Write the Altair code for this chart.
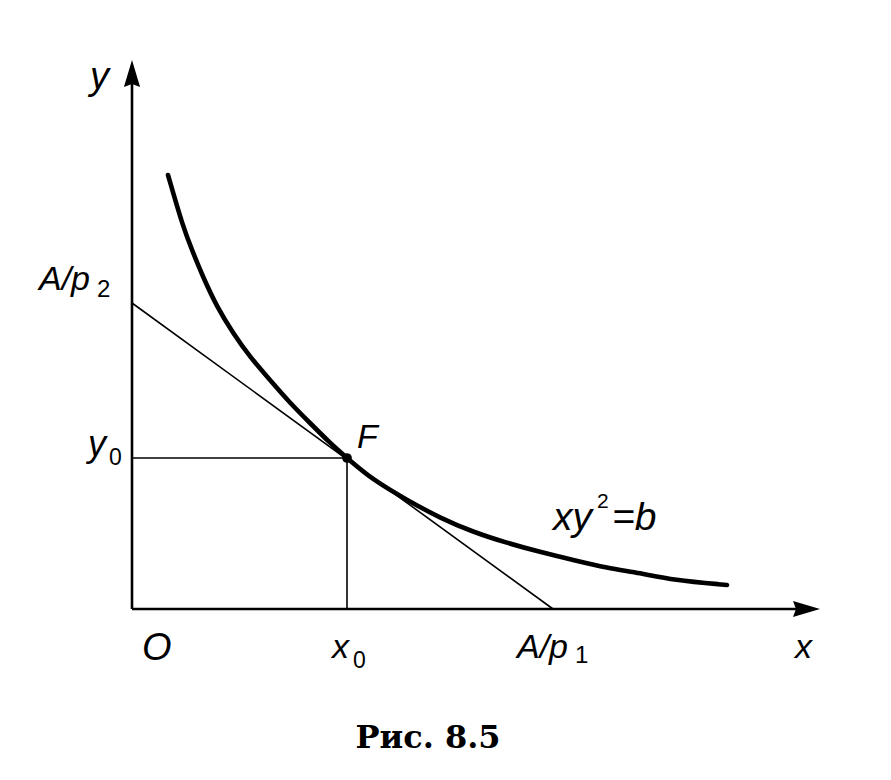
import altair as alt
import pandas as pd

# ---- data (coordinates in figure units: origin O at (0,0), 1 unit ~ 1 px) ----
curve_x = [36, 51, 60, 71, 85, 101, 118, 138, 158, 178, 198, 215, 241, 275, 308, 341, 375, 408, 441, 475, 508, 541, 595]
curve_y = [434, 382, 359, 332, 302, 276, 252, 229, 206, 186, 166, 151, 129, 109, 91, 77, 66, 57, 49, 41, 36, 29, 24]

x0_val, y0_val = 215, 151          # point F
A_p2 = 306                          # intercept on y axis
A_p1 = 421                          # intercept on x axis
x_axis_end, y_axis_end = 688, 549   # arrow tips

# italic letters
lbl_text = ["y", "A/p", "y", "O", "x", "A/p", "x", "F", "xy", "=b"]
lbl_x = [-42, -93, -44, 10, 200, 385, 663, 225, 421, 480]
lbl_y = [520, 319, 153, -51, -49, -49, -49, 161, 79, 79]
lbl_size = [38, 34, 36, 38, 34, 34, 34, 34, 39, 39]

# upright sub/superscripts
sub_text = ["2", "0", "0", "1", "2"]
sub_x = [-35, -23, 221, 443, 465]
sub_y = [312, 144, -59, -54, 101]
sub_size = [24, 23, 23, 24, 21]

caption = "Рис. 8.5"

# ---- scales: plot area mapped so 1 unit = 1 px ----
W, H = 875, 756
xdom = [8 - 132, 8 + W - 132]
ydom = [609 - 8 - H, 609 - 8]
xs = alt.Scale(domain=xdom, nice=False, zero=False)
ys = alt.Scale(domain=ydom, nice=False, zero=False)

def X(f="x"):
    return alt.X(f"{f}:Q", scale=xs, axis=None)

def Y(f="y"):
    return alt.Y(f"{f}:Q", scale=ys, axis=None)

head = 27  # arrow head length
axes_df = pd.DataFrame({
    "x": [0, 0], "y": [0, 0],
    "x2": [0, x_axis_end - head / 2], "y2": [y_axis_end - head / 2, 0],
})
axes = alt.Chart(axes_df).mark_rule(color="black", strokeWidth=2.6).encode(
    x=X(), y=Y(), x2="x2:Q", y2="y2:Q")

arrow_path = "M0,-1 L0.6,1 L0,0.78 L-0.6,1 Z"
arrows_df = pd.DataFrame({
    "x": [0, x_axis_end - head / 2],
    "y": [y_axis_end - head / 2, 0],
    "ang": [0, 90],
})
arrows = alt.Chart(arrows_df).mark_point(
    shape=arrow_path, filled=True, color="black", opacity=1, size=head * head, strokeWidth=0
).encode(x=X(), y=Y(), angle=alt.Angle("ang:Q", scale=None))

thin_df = pd.DataFrame({
    "x": [0, 0, x0_val], "y": [A_p2, y0_val, y0_val],
    "x2": [A_p1, x0_val, x0_val], "y2": [0, y0_val, 0],
})
thin = alt.Chart(thin_df).mark_rule(color="black", strokeWidth=1.6).encode(
    x=X(), y=Y(), x2="x2:Q", y2="y2:Q")

curve_df = pd.DataFrame({"x": curve_x, "y": curve_y, "o": list(range(len(curve_x)))})
curve = alt.Chart(curve_df).mark_line(color="black", strokeWidth=4.6, interpolate="basis",
                                      strokeCap="round").encode(
    x=X(), y=Y(), order="o:Q")

pt = alt.Chart(pd.DataFrame({"x": [x0_val], "y": [y0_val]})).mark_circle(
    color="black", size=95, opacity=1).encode(x=X(), y=Y())

lbl_df = pd.DataFrame({"x": lbl_x, "y": lbl_y, "t": lbl_text, "s": lbl_size})
labels = alt.Chart(lbl_df).mark_text(
    align="left", baseline="alphabetic", font="Liberation Sans", fontStyle="italic", color="black"
).encode(x=X(), y=Y(), text="t:N", size=alt.Size("s:Q", scale=None))

sub_df = pd.DataFrame({"x": sub_x, "y": sub_y, "t": sub_text, "s": sub_size})
subs = alt.Chart(sub_df).mark_text(
    align="left", baseline="alphabetic", font="Liberation Sans", color="black"
).encode(x=X(), y=Y(), text="t:N", size=alt.Size("s:Q", scale=None))

cap = alt.Chart(pd.DataFrame({"x": [296], "y": [-139], "t": [caption]})).mark_text(
    align="center", baseline="alphabetic", font="DejaVu Serif", fontWeight="bold",
    fontSize=32, color="black"
).encode(x=X(), y=Y(), text="t:N")

chart = alt.layer(thin, curve, axes, arrows, pt, labels, subs, cap).properties(
    width=W, height=H, padding=0, autosize="none", background="white"
).configure_view(stroke=None)

chart.save("out.html", embed_options={"renderer": "svg", "actions": False})
